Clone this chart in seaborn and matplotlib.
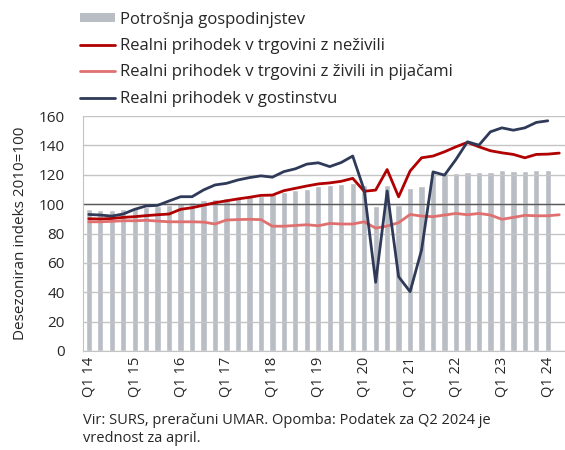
import pandas as pd
import seaborn as sns
import matplotlib.pyplot as plt
import numpy as np
from matplotlib.patches import Patch
from matplotlib.lines import Line2D

# quarters Q1 2014 .. Q2 2024
quarters = [f'Q{q} {y}' for y in range(14, 25) for q in range(1, 5)][:42]

# household consumption (to Q1 2024)
potrosnja = [96.4, 96.0, 96.0, 96.7, 97.6, 98.3, 98.8, 99.3, 100.7, 101.8,
             102.9, 103.8, 104.0, 104.9, 105.4, 105.9, 107.2, 108.6, 109.5, 110.2,
             112.4, 113.0, 114.0, 114.5, 113.0, 98.7, 113.0, 99.3, 111.3, 112.2,
             122.0, 121.0, 121.5, 121.7, 121.7, 122.0, 123.0, 122.6, 122.8, 123.2,
             123.3, np.nan]

# real turnover in retail, non-food (to Q2 2024)
nezivila = [90.1, 89.9, 90.3, 91.0, 91.5, 92.2, 92.8, 93.3, 96.5, 97.6,
            99.3, 101.0, 102.3, 103.6, 104.7, 106.0, 106.2, 109.2, 110.8, 112.4,
            113.8, 114.5, 115.6, 117.6, 108.8, 109.6, 123.6, 105.0, 122.6, 131.6,
            132.8, 135.7, 139.1, 142.1, 139.1, 136.4, 135.0, 133.9, 131.6, 133.9,
            134.1, 134.8]

# real turnover in retail, food & beverages (to Q2 2024)
zivila = [88.0, 88.0, 88.3, 88.7, 88.7, 89.0, 88.5, 88.0, 88.0, 88.0,
          87.8, 86.5, 89.2, 89.5, 89.7, 89.5, 85.0, 85.0, 85.5, 86.0,
          85.3, 86.9, 86.5, 86.5, 88.0, 83.7, 85.1, 87.4, 93.0, 91.9,
          91.5, 92.6, 93.7, 92.8, 93.7, 92.6, 89.7, 91.0, 92.4, 92.1,
          92.1, 92.8]

# real turnover in hospitality (to Q1 2024)
gostinstvo = [93.0, 92.6, 91.9, 93.3, 96.5, 98.8, 99.2, 102.2, 105.1, 105.1,
              109.7, 113.1, 114.2, 116.5, 118.1, 119.3, 118.4, 122.2, 124.1, 127.3,
              128.2, 125.6, 128.4, 132.8, 109.6, 46.8, 109.0, 50.6, 40.4, 68.8,
              122.0, 119.8, 130.5, 142.5, 140.2, 149.3, 152.0, 150.4, 152.0, 155.7,
              156.8, np.nan]

labels = ['Potrošnja gospodinjstev',
          'Realni prihodek v trgovini z neživili',
          'Realni prihodek v trgovini z živili in pijačami',
          'Realni prihodek v gostinstvu']

df = pd.DataFrame({'quarter': quarters, 'pos': np.arange(42),
                   'potrosnja': potrosnja, 'nezivila': nezivila,
                   'zivila': zivila, 'gostinstvo': gostinstvo})

sns.set_style('white')
plt.rcParams['font.family'] = ['Open Sans', 'DejaVu Sans']

c_bar = '#b9bdc4'
c_dred = '#b00000'
c_lred = '#e07070'
c_navy = '#2f3a58'

fig = plt.figure(figsize=(5.65, 4.5), dpi=100)
ax = fig.add_axes([0.147, 0.22, 0.853, 0.522])

sns.barplot(data=df, x='quarter', y='potrosnja', order=quarters,
            color=c_bar, width=0.55, ax=ax, saturation=1)
sns.lineplot(data=df, x='pos', y='nezivila', color=c_dred, lw=2, ax=ax)
sns.lineplot(data=df, x='pos', y='zivila', color=c_lred, lw=2, ax=ax)
sns.lineplot(data=df, x='pos', y='gostinstvo', color=c_navy, lw=2, ax=ax)

ax.set_xlim(-0.5, 41.5)
ax.set_ylim(0, 160)
ax.set_yticks(range(0, 161, 20))
ax.yaxis.grid(True, color='#c4c4c4', lw=1)
ax.set_axisbelow('line')
ax.axhline(100, color='#5a5a5a', lw=1, zorder=1.8)

ax.set_xticks(range(0, 42, 4))
ax.set_xticklabels([f'Q1 {y}' for y in range(14, 25)], rotation=90)
ax.tick_params(axis='x', length=0, labelsize=10.5, pad=4)
ax.tick_params(axis='y', length=0, labelsize=11, pad=13)
ax.set_xlabel('')
ax.set_ylabel('Desezoniran indeks 2010=100', fontsize=11, labelpad=8)

for s in ['top', 'right']:
    ax.spines[s].set_visible(False)
ax.spines['left'].set_color('#c4c4c4')
ax.spines['bottom'].set_color('#c4c4c4')

handles = [Patch(facecolor=c_bar, edgecolor='none'),
           Line2D([], [], color=c_dred, lw=2),
           Line2D([], [], color=c_lred, lw=2),
           Line2D([], [], color=c_navy, lw=2)]
fig.legend(handles, labels, loc='upper left', bbox_to_anchor=(0.124, 0.996),
           frameon=False, fontsize=12, handlelength=2.1, handleheight=0.45,
           handletextpad=0.3, labelspacing=0.62, borderaxespad=0.2)

fig.text(0.147, 0.082, 'Vir: SURS, preračuni UMAR. Opomba: Podatek za Q2 2024 je\nvrednost za april.',
         fontsize=10.5, ha='left', va='top', linespacing=1.25)

fig.savefig('out.png', dpi=100)
